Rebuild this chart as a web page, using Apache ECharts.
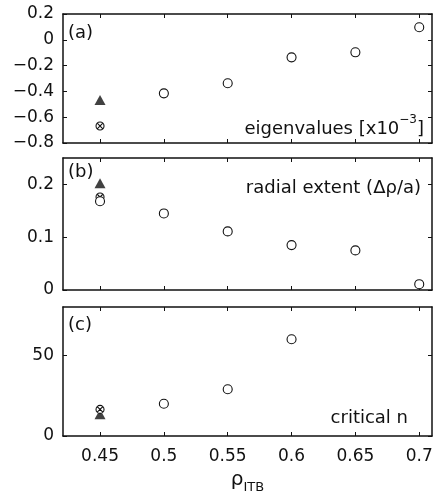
<!DOCTYPE html>
<html>
<head>
<meta charset="utf-8">
<script src="https://cdn.jsdelivr.net/npm/echarts@6/dist/echarts.min.js"></script>
<style>html,body{margin:0;padding:0;background:#fff}#c{width:434px;height:495px}</style>
</head>
<body>
<div id="c"></div>
<script>
// ---- data ----
const xTicks = [0.45, 0.5, 0.55, 0.6, 0.65, 0.7];
const refRho = [0.45];
// panel (a) eigenvalues [x10^-3]
const eigRho = [0.5, 0.55, 0.6, 0.65, 0.7];
const eigCircle = [-0.415, -0.337, -0.136, -0.097, 0.097];
const eigTriangle = [-0.467];
const eigCross = [-0.668];
const eigTicks = [-0.8, -0.6, -0.4, -0.2, 0, 0.2];
// panel (b) radial extent
const radRho = [0.45, 0.5, 0.55, 0.6, 0.65, 0.7];
const radCircle = [0.168, 0.145, 0.111, 0.085, 0.075, 0.011];
const radTriangle = [0.202];
const radCross = [0.176];
const radTicks = [0, 0.1, 0.2];
// panel (c) critical n
const critRho = [0.5, 0.55, 0.6];
const critCircle = [20, 29, 60];
const critTriangle = [13.5];
const critCross = [16.5];
const critTicks = [0, 50];

const FONT = '"DejaVu Sans", "Liberation Sans", Arial, sans-serif';
const zip = (xs, ys) => xs.map((x, i) => [x, ys[i]]);
const fmt = v => String(Math.round(v * 100) / 100).replace('-', '\u2212');

const gridBase = {left: 63, width: 369, containLabel: false, outerBoundsMode: 'none'};
const grids = [
  Object.assign({top: 14, height: 129}, gridBase),
  Object.assign({top: 158, height: 132}, gridBase),
  Object.assign({top: 307, height: 129}, gridBase)
];
const yRanges = [[-0.8, 0.2, eigTicks], [0, 0.25, radTicks], [0, 80, critTicks]];

const axLine = {show: true, onZero: false, lineStyle: {color: '#111', width: 1.5}};
const axTick = (vals) => ({show: true, inside: true, length: 4, customValues: vals, lineStyle: {color: '#111', width: 1}});

const xAxis = [], yAxis = [];
for (let i = 0; i < 3; i++) {
  xAxis.push({
    type: 'value', gridIndex: i, min: 0.421, max: 0.71, position: 'bottom',
    axisLine: axLine, axisTick: axTick(xTicks), splitLine: {show: false},
    axisLabel: {show: i === 2, customValues: xTicks, formatter: fmt, margin: 12,
      fontSize: 17, fontFamily: FONT, color: '#111'},
    name: i === 2 ? '{r|\u03c1}{s|ITB}' : '',
    nameLocation: 'middle', nameGap: 34,
    nameTextStyle: {rich: {
      r: {fontSize: 20, fontFamily: FONT, color: '#111', verticalAlign: 'top', lineHeight: 24},
      s: {fontSize: 13, fontFamily: FONT, color: '#111', verticalAlign: 'bottom', lineHeight: 24}
    }}
  });
  xAxis.push({
    type: 'value', gridIndex: i, min: 0.421, max: 0.71, position: 'top',
    axisLine: axLine, axisTick: axTick(xTicks), splitLine: {show: false},
    axisLabel: {show: false}
  });
  const [mn, mx, tk] = yRanges[i];
  yAxis.push({
    type: 'value', gridIndex: i, min: mn, max: mx, position: 'left',
    axisLine: axLine, axisTick: axTick(tk), splitLine: {show: false},
    axisLabel: {customValues: tk, formatter: fmt, margin: 9, fontSize: 17, fontFamily: FONT, color: '#111'}
  });
  yAxis.push({
    type: 'value', gridIndex: i, min: mn, max: mx, position: 'right',
    axisLine: axLine, axisTick: axTick(tk), splitLine: {show: false},
    axisLabel: {show: false}
  });
}

const CROSS = 'path://M0,10 A10,10 0 1,1 20,10 A10,10 0 1,1 0,10 Z M2.93,2.93 L17.07,17.07 M17.07,2.93 L2.93,17.07';
const circleS = (gi, data) => ({type: 'scatter', xAxisIndex: gi * 2, yAxisIndex: gi * 2, data, symbol: 'circle', symbolSize: 9,
  itemStyle: {color: '#fff', borderColor: '#111', borderWidth: 1.1, opacity: 1}, z: 4, silent: true});
const triS = (gi, data) => ({type: 'scatter', xAxisIndex: gi * 2, yAxisIndex: gi * 2, data, symbol: 'triangle', symbolSize: [11, 10],
  itemStyle: {color: '#111'}, z: 2, silent: true});
const crossS = (gi, data) => ({type: 'scatter', xAxisIndex: gi * 2, yAxisIndex: gi * 2, data, symbol: CROSS, symbolSize: 8,
  itemStyle: {color: '#fff', borderColor: '#111', borderWidth: 1.1, opacity: 1}, z: 3, silent: true});

const series = [
  triS(0, zip(refRho, eigTriangle)), crossS(0, zip(refRho, eigCross)), circleS(0, zip(eigRho, eigCircle)),
  triS(1, zip(refRho, radTriangle)), crossS(1, zip(refRho, radCross)), circleS(1, zip(radRho, radCircle)),
  triS(2, zip(refRho, critTriangle)), crossS(2, zip(refRho, critCross)), circleS(2, zip(critRho, critCircle))
];

const txt = (x, y, text, align, rich) => ({
  type: 'text', x, y, silent: true, z: 10,
  style: {text, align, verticalAlign: 'middle', fontSize: 18, fontFamily: FONT, fill: '#111', rich}
});
const supRich = {
  m: {fontSize: 18, fontFamily: FONT, color: '#111', verticalAlign: 'bottom', lineHeight: 24},
  p: {fontSize: 12, fontFamily: FONT, color: '#111', verticalAlign: 'top', lineHeight: 24}
};

const chart = echarts.init(document.getElementById('c'), null, {renderer: 'canvas'});
chart.setOption({
  backgroundColor: '#fff',
  animation: false,
  grid: grids,
  xAxis, yAxis, series,
  graphic: [
    txt(68, 33, '(a)', 'left'),
    txt(68, 172, '(b)', 'left'),
    txt(68, 325, '(c)', 'left'),
    txt(424, 126, '{m|eigenvalues [x10}{p|\u22123}{m|]}', 'right', supRich),
    txt(421, 188, 'radial extent (\u0394\u03c1/a)', 'right'),
    txt(408, 418, 'critical n', 'right')
  ]
});
</script>
</body>
</html>
